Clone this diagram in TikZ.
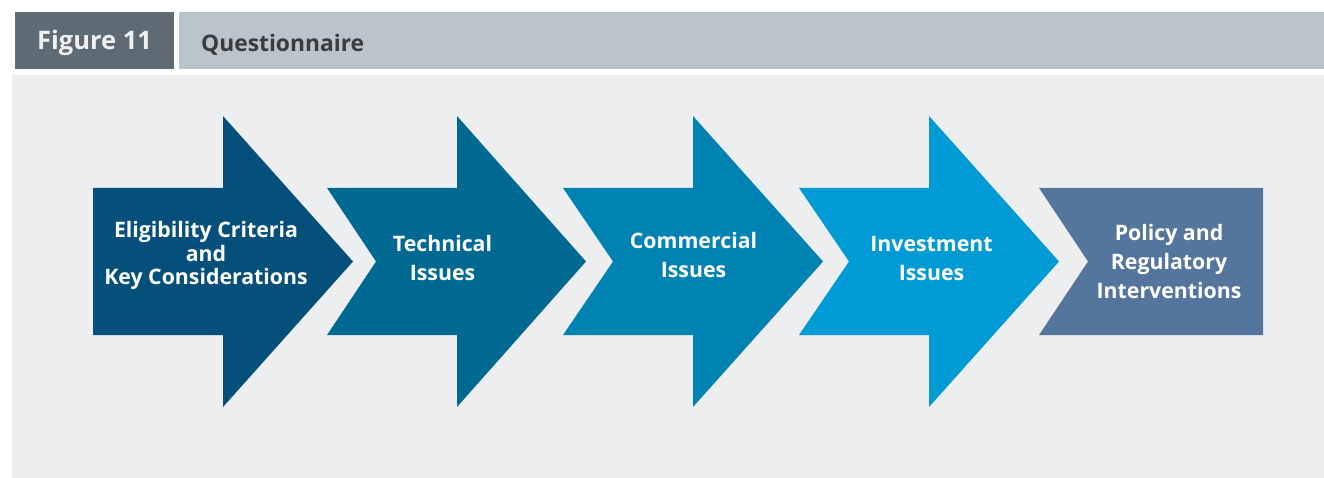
\documentclass[tikz,border=0pt]{standalone}
\usepackage{fontspec}
\setmainfont{Open Sans}
\usepackage{xcolor}
\usepackage{tikz}
\usetikzlibrary{shapes,arrows,positioning}

\definecolor{panelgray}{RGB}{237,238,240}
\definecolor{tabdark}{RGB}{95,107,116}
\definecolor{tablight}{RGB}{188,196,203}
\definecolor{titletext}{RGB}{58,60,62}
\definecolor{stepone}{RGB}{5,80,122}
\definecolor{steptwo}{RGB}{0,105,145}
\definecolor{stepthree}{RGB}{0,131,179}
\definecolor{stepfour}{RGB}{0,154,212}
\definecolor{stepfive}{RGB}{84,118,156}

\begin{document}
\begin{tikzpicture}[
    x=1pt, y=-1pt,
    label/.style={align=center, text=white, inner sep=0pt, font=\fontsize{21.3}{29}\selectfont\bfseries},
    smalllabel/.style={align=center, text=white, inner sep=0pt, font=\fontsize{21.3}{23.5}\selectfont\bfseries}
]
    \useasboundingbox (0,0) rectangle (1324,478);

    % Header
    \fill[tabdark] (15,12) rectangle (174,69);
    \fill[tablight] (179,12) rectangle (1324,69);
    \fill[panelgray] (12,75) rectangle (1324,478);
    \node[anchor=base, inner sep=0pt, text=white!94!black, font=\fontsize{25.5}{30}\selectfont\bfseries] (fig) at (94.5,50) {Figure 11};
    \node[anchor=base west, inner sep=0pt, text=titletext, font=\fontsize{22.8}{27}\selectfont\bfseries] (title) at (201,52) {Questionnaire};

    % Arrows
    \fill[stepone] (93,188) -- (223,188) -- (223,116) -- (353,261.5) -- (223,407) -- (223,335) -- (93,335) -- cycle;
    \fill[steptwo] (327,188) -- (457,188) -- (457,116) -- (586,261.5) -- (457,407) -- (457,335) -- (327,335) -- (376,261.5) -- cycle;
    \fill[stepthree] (563,188) -- (693,188) -- (693,116) -- (823,261.5) -- (693,407) -- (693,335) -- (563,335) -- (613,261.5) -- cycle;
    \fill[stepfour] (799,188) -- (929,188) -- (929,116) -- (1059,261.5) -- (929,407) -- (929,335) -- (799,335) -- (849,261.5) -- cycle;
    \fill[stepfive] (1039,188) -- (1263,188) -- (1263,335) -- (1039,335) -- (1088,261.5) -- cycle;

    % Labels
    \node[smalllabel] (s1) at (206,255.5) {Eligibility Criteria\\and\\Key Considerations};
    \node[label] (s2) at (442.5,258) {Technical\\Issues};
    \node[label] (s3) at (693.5,255.5) {Commercial\\Issues};
    \node[label] (s4) at (931.5,259) {Investment\\Issues};
    \node[label] (s5) at (1169,262) {Policy and\\Regulatory\\Interventions};
\end{tikzpicture}
\end{document}
